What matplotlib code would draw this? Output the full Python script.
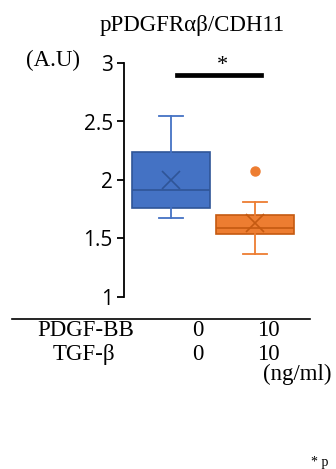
#!/usr/bin/env python3

import matplotlib
matplotlib.use('Agg')
import matplotlib.pyplot as plt
from matplotlib.lines import Line2D

# values (A.U)
groups = ['ctrl', 'PDGF-BB+TGF-b']
q1 = [1.76, 1.54]
med = [1.915, 1.59]
q3 = [2.24, 1.70]
whislo = [1.675, 1.37]
whishi = [2.55, 1.815]
means = [2.0, 1.635]
fliers = [[], [2.08]]

pdgf_doses = ['0', '10']
tgf_doses = ['0', '10']
yticks = [1, 1.5, 2, 2.5, 3]
yticklabels = ['1', '1.5', '2', '2.5', '3']

face_cols = ['#4472C4', '#ED7D31']
edge_cols = ['#2F5597', '#C55A11']

W, H = 336, 469
fig = plt.figure(figsize=(W / 100, H / 100), dpi=100)
ax = fig.add_axes([124 / W, (H - 297) / H, (310 - 124) / W, (297 - 63) / H])

serif = 'Liberation Serif'
sans = 'Open Sans'

stats = []
for i in range(len(groups)):
    stats.append(dict(label=groups[i], q1=q1[i], med=med[i], q3=q3[i],
                      whislo=whislo[i], whishi=whishi[i], mean=means[i],
                      fliers=fliers[i]))

pos = [1, 2]
for i, s in enumerate(stats):
    ax.bxp([s], positions=[pos[i]], widths=0.92, patch_artist=True,
           showmeans=True, showfliers=True,
           boxprops=dict(facecolor=face_cols[i], edgecolor=edge_cols[i], linewidth=1.2),
           medianprops=dict(color=edge_cols[i], linewidth=1.2),
           whiskerprops=dict(color=face_cols[i], linewidth=1.3),
           capprops=dict(color=face_cols[i], linewidth=1.3),
           capwidths=0.28,
           meanprops=dict(marker='x', markeredgecolor=edge_cols[i], markersize=13,
                          markeredgewidth=1.2),
           flierprops=dict(marker='o', markerfacecolor=face_cols[i],
                           markeredgecolor=face_cols[i], markersize=6.5))

ax.set_xlim(1 - (171 - 124) / 84, 2 + (310 - 255) / 84)
ax.set_ylim(1, 3)
ax.set_yticks(yticks)
ax.set_yticklabels(yticklabels, fontfamily=sans, fontsize=15)
ax.tick_params(axis='y', length=5, width=1.3, pad=3, color='black')
ax.set_xticks([])
for sp in ['top', 'right', 'bottom']:
    ax.spines[sp].set_visible(False)
ax.spines['left'].set_linewidth(1.3)
ax.patch.set_alpha(0)

# significance bar
ax.plot([1.07, 2.07], [2.9, 2.9], color='black', lw=3.4, clip_on=False)
fig.text(222 / W, 1 - 65 / H, '*', ha='center', va='center', fontfamily=serif, fontsize=16)

# title and unit
fig.text(192 / W, 1 - 25 / H, 'pPDGFR\u03b1\u03b2/CDH11', ha='center', va='center',
         fontfamily=serif, fontsize=16.5)
fig.text(53 / W, 1 - 60 / H, '(A.U)', ha='center', va='center', fontfamily=serif, fontsize=16.5)

# table under the plot
fig.add_artist(Line2D([12 / W, 310 / W], [1 - 319 / H, 1 - 319 / H], color='black', lw=1.2))
fig.text(86 / W, 1 - 330 / H, 'PDGF-BB', ha='center', va='center', fontfamily=serif, fontsize=16.5)
fig.text(84 / W, 1 - 354 / H, 'TGF-\u03b2', ha='center', va='center', fontfamily=serif, fontsize=16.5)
for j, xp in enumerate([198, 268]):
    fig.text(xp / W, 1 - 330 / H, pdgf_doses[j], ha='center', va='center', fontfamily=serif, fontsize=16.5)
    fig.text(xp / W, 1 - 354 / H, tgf_doses[j], ha='center', va='center', fontfamily=serif, fontsize=16.5)
fig.text(263 / W, 1 - 374 / H, '(ng/ml)', ha='left', va='center', fontfamily=serif, fontsize=16.5)

fig.text(311 / W, 1 - 462 / H, '* p', ha='left', va='center', fontfamily=serif, fontsize=10)

fig.savefig('out.png', dpi=100)
